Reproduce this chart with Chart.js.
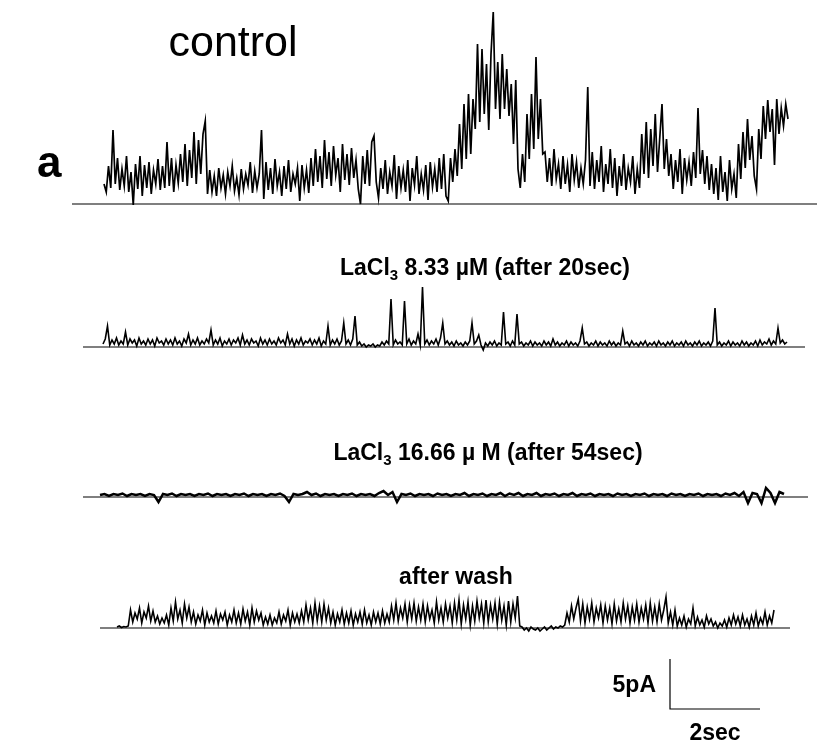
<!DOCTYPE html>
<html>
<head>
<meta charset="utf-8">
<script src="https://cdn.jsdelivr.net/npm/chart.js@4"></script>
<style>
  body { margin: 0; background: #fff; }
  canvas { display: block; }
</style>
</head>
<body>
<canvas id="chart" width="817" height="750"></canvas>
<script>
// current traces in pA above baseline
// control, 8.33 µM and wash sampled every 0.05 s, 16.66 µM every 0.1 s
const controlTrace = [
  2.0, 1.2, 3.8, 1.6, 7.4, 2.0, 4.6, 1.4, 3.5, 1.8, 4.8, 1.2, 3.2, -0.1, 4.0,
  1.5, 4.8, 0.8, 3.9, 1.6, 4.2, 1.0, 3.4, 2.0, 4.5, 1.4,
  3.8, 1.6, 6.2, 1.8, 4.6, 1.2, 3.9, 2.1, 5.0,
  2.2, 6.0, 1.8, 5.4, 2.6, 7.2, 2.0, 6.4, 3.0, 7.0, 8.3, 1.0,
  3.4, 1.2, 2.8, 0.8, 3.6, 1.6, 2.9, 1.0, 3.2, 1.8, 3.8, 1.3, 2.6, 0.9, 3.5, 1.5, 3.0, 1.9, 4.2, 1.1, 3.3, 1.6, 3.0,
  7.4,
  0.5, 4.2, 1.4, 3.6, 1.0, 4.5, 1.8, 3.2, 0.8, 3.8, 1.5, 4.4, 1.2, 3.0, 2.0, 3.6, 0.3, 3.9, 1.6, 3.4, 1.1, 4.6, 1.8,
  5.5, 2.2, 4.8, 1.6, 6.4, 2.5, 5.2, 1.8, 5.8, 2.9, 4.6, 1.2, 6.0, 2.4, 5.0, 1.9, 5.6, 2.6, 4.4, 1.5,
  0.0, 4.8, 2.0, 5.4, 1.8, 6.2, 6.8, 2.2,
  0.6, 3.6, 1.5, 4.4, 1.0, 3.2, 1.8, 4.9, 0.5, 3.8, 1.6, 3.4, 1.2, 4.4, 0.3, 3.6, 1.9, 4.8, 1.0, 3.0,
  1.4, 3.9, 0.4, 4.2, 1.7, 3.5, 1.2, 4.6, 1.5, 5.0, 0.8, 0.3,
  4.6, 2.2, 5.5, 2.8, 8.0, 3.5, 10.0, 4.5, 11.0, 5.0, 10.5,
  7.5, 16.0, 8.2, 15.5, 9.0, 14.0, 7.4, 15.0, 19.2, 9.5, 14.2,
  8.5, 15.0, 9.5, 13.5, 8.8, 12.0,
  6.0, 12.4, 3.5, 1.6, 5.0, 2.2,
  9.0, 4.5, 11.0, 5.5, 14.7, 6.5, 10.5, 5.0,
  5.2, 2.2, 4.6, 1.8, 5.5, 2.5, 4.0, 1.5, 4.8, 2.0, 3.9, 1.2, 5.0, 2.4, 4.2, 1.6, 3.6, 2.0, 4.4, 11.7, 1.8,
  5.2, 1.5, 4.4, 2.2, 5.8, 1.2, 4.0, 2.0, 5.5, 1.6, 4.6, 0.8, 3.8, 1.8, 5.0, 1.4, 3.6, 2.2, 4.8, 1.0, 3.5, 1.6,
  7.0, 3.0, 8.2, 2.6, 7.5, 3.8, 9.0, 3.2, 6.6, 10.0, 3.5, 6.5, 2.8,
  5.0, 1.5, 4.4, 2.2, 5.5, 1.0, 4.6, 2.4, 4.2, 1.8, 5.2, 2.6, 9.6, 3.0, 5.4, 2.0, 4.8, 1.4, 4.0,
  1.0, 3.6, 0.4, 4.8, 1.2, 3.2, 0.3, 4.4, 1.5, 3.0, 0.6,
  6.0, 2.5, 7.2, 3.6, 8.5, 4.4, 6.8, 2.8, 1.5, 7.5, 4.5,
  9.8, 6.5, 10.4, 7.2, 9.5, 3.9, 10.5, 7.0, 9.6, 7.8, 10.0, 8.5
];

const la833Trace = [
  0.3, 0.8, 2.1, 0.2, 0.7, 0.3, 0.9, 0.2, 0.6, 0.3, 1.5, 0.2, 0.8, 0.4, 0.7, 0.1, 0.9, 0.3, 0.6, 0.2,
  0.8, 0.3, 0.7, 0.1, 0.9, 0.4, 0.6, 0.2, 0.8, 0.3, 0.7, 0.2, 0.9, 0.3, 0.6, 0.1, 0.8, 0.4, 1.3, 0.2,
  0.7, 0.3, 0.9, 0.2, 0.6, 0.3, 0.8, 0.4, 1.7, 0.2, 0.7, 0.3, 0.9, 0.1, 0.6, 0.3, 0.8, 0.2, 0.7, 0.4,
  0.9, 0.2, 1.2, 0.3, 0.7, 0.2, 0.8, 0.4, 0.6, 0.1, 0.9, 0.3, 0.7, 0.2, 0.8, 0.3, 0.6, 0.2, 0.9, 0.4,
  0.7, 0.2, 1.3, 0.3, 0.8, 0.1, 0.7, 0.3, 0.9, 0.2, 0.6, 0.4, 0.8, 0.2, 0.7, 0.3, 0.9, 0.1, 0.6, 0.3,
  2.1, 0.2, 0.7, 0.3, 0.8, 0.2, 0.6, 2.4, 0.3, 0.7, 0.2, 0.8, 3.1, 0.2, 0.5, 0.1, 0.3, 0.0, 0.2, 0.1,
  0.3, 0.0, 0.2, 0.1, 0.5, 0.2, 0.6, 0.3, 4.8, 0.2, 0.7, 0.3, 0.5, 0.2, 4.6, 0.3, 0.8, 0.2, 0.6, 0.3,
  1.3, 0.2, 6.0, 0.3, 0.7, 0.2, 0.6, 0.3, 0.8, 0.2, 0.9, 2.4, 0.3, 0.6, 0.2, 0.5, 0.1, 0.6, 0.2, 0.4,
  0.1, 0.5, 0.2, 0.6, 2.4, 0.3, 0.6, 1.2, 0.2, -0.3, 0.4, 0.1, 0.5, 0.2, 0.6, 0.1, 0.4, 0.2, 3.5, 0.3,
  0.5, 0.1, 0.6, 0.2, 3.3, 0.3, 0.5, 0.1, 0.4, 0.2, 0.6, 0.1, 0.5, 0.2, 0.4, 0.1, 0.6, 0.2, 0.5, 0.1,
  0.8, 0.2, 0.5, 0.1, 0.4, 0.2, 0.6, 0.1, 0.5, 0.2, 0.4, 0.1, 0.6, 1.9, 0.3, 0.5, 0.1, 0.4, 0.2, 0.6,
  0.1, 0.5, 0.2, 0.4, 0.1, 0.6, 0.2, 0.5, 0.1, 0.4, 0.2, 1.6, 0.3, 0.5, 0.1, 0.6, 0.2, 0.4, 0.1, 0.5,
  0.2, 0.6, 0.1, 0.4, 0.2, 0.5, 0.1, 0.6, 0.2, 0.4, 0.1, 0.5, 0.2, 0.6, 0.1, 0.4, 0.2, 0.5, 0.1, 0.6,
  0.2, 0.4, 0.1, 0.5, 0.2, 0.6, 0.1, 0.4, 0.2, 0.5, 0.1, 0.6, 3.9, 0.2, 0.5, 0.1, 0.4, 0.2, 0.6, 0.1,
  0.5, 0.2, 0.4, 0.1, 0.6, 0.2, 0.5, 0.1, 0.4, 0.2, 0.6, 0.1, 0.7, 0.2, 0.5, 0.3, 0.8, 0.2, 0.6, 0.3,
  1.9, 0.4, 0.7, 0.3, 0.5
];

const la1666Trace = [
  0.2, 0.3, 0.1, 0.3, 0.2, 0.35, 0.1, 0.3, 0.2, 0.3,
  0.1, 0.3, 0.2, -0.5, 0.3, 0.2, 0.35, 0.1, 0.3, 0.2,
  0.3, 0.1, 0.3, 0.2, 0.35, 0.1, 0.3, 0.2, 0.3, 0.1,
  0.3, 0.2, 0.35, 0.1, 0.3, 0.2, 0.3, 0.1, 0.3, 0.2,
  0.35, 0.1, -0.5, 0.3, 0.2, 0.3, 0.5, 0.2, 0.35, 0.1,
  0.3, 0.2, 0.3, 0.1, 0.3, 0.2, 0.35, 0.1, 0.3, 0.2,
  0.3, 0.1, 0.4, 0.6, 0.2, 0.5, -0.5, 0.3, 0.2, 0.35,
  0.1, 0.3, 0.2, 0.3, 0.1, 0.35, 0.2, 0.3, 0.1, 0.3,
  0.2, 0.4, 0.1, 0.3, 0.2, 0.35, 0.1, 0.3, 0.2, 0.4,
  0.1, 0.35, 0.2, 0.4, 0.1, 0.3, 0.2, 0.4, 0.1, 0.3,
  0.2, 0.35, 0.1, 0.3, 0.2, 0.4, 0.1, 0.3, 0.2, 0.35,
  0.1, 0.3, 0.2, 0.3, 0.1, 0.35, 0.2, 0.3, 0.1, 0.3,
  0.2, 0.35, 0.1, 0.3, 0.2, 0.3, 0.1, 0.35, 0.2, 0.3,
  0.1, 0.3, 0.2, 0.35, 0.1, 0.3, 0.2, 0.3, 0.1, 0.35,
  0.2, 0.4, 0.1, 0.5, -0.6, 0.4, 0.3, -0.6, 0.9, 0.4,
  -0.6, 0.5, 0.3
];

const washTrace = [
  0.1, 0.2, 0.05, 0.15, 0.1, 0.2,
  1.8, 0.6, 1.5, 0.9, 2.0, 0.5, 1.6, 1.0, 2.2, 0.7, 1.7, 0.6,
  1.2, 0.4, 1.0, 0.5, 1.3, 0.3,
  2.0, 0.7, 2.6, 0.9, 1.8, 0.5, 2.4, 1.0, 2.1, 0.6,
  1.6, 0.4, 1.3, 0.7, 1.8, 0.3, 1.5, 0.6, 1.2, 0.5, 1.7, 0.4, 1.4, 0.8, 1.6, 0.3, 1.3, 0.6, 1.8, 0.5, 1.5,
  0.4, 1.9, 0.7, 1.6, 0.3, 2.0, 0.6, 1.7, 0.8, 1.5,
  0.3, 1.1, 0.4, 1.3, 0.3, 1.0,
  0.5, 1.6, 0.4, 1.3, 0.7, 1.8, 0.3, 1.5, 0.6, 1.4, 0.5, 1.7,
  0.6, 2.3, 0.8, 2.0, 0.5, 2.5, 0.7, 2.2, 0.6, 2.4, 0.8, 2.0,
  0.5, 1.6, 0.3, 1.4, 0.6, 1.8, 0.4, 1.5, 0.5, 1.7, 0.3, 1.4, 0.6, 1.6, 0.4, 1.8, 0.5, 1.3, 0.3, 1.6,
  0.6, 1.5, 0.4, 1.7, 0.5, 1.4, 0.6,
  2.2, 0.8, 2.5, 0.7, 2.0, 1.0, 2.4, 0.6, 2.3, 0.9, 2.5, 0.7, 2.1, 0.8, 2.4,
  0.6, 2.2, 0.9, 1.8, 0.5, 2.6, 0.8, 2.0, 0.6, 2.4, 1.0, 2.2,
  0.5, 2.5, 0.8, 2.8, 0.4, 2.3, 0.9, 2.6, 0.3, 2.2, 0.7, 2.7, 1.0, 2.4, 0.5, 2.8, 0.6, 2.3, 0.9, 2.5,
  0.4, 2.6, 0.8, 2.2, 0.3, 2.7, 0.6, 2.4, 1.0, 3.2, 0.2,
  0.1, -0.2, 0.0, -0.3, 0.1, -0.1, -0.2, 0.0, -0.3, -0.1, 0.1, -0.2, 0.0, 0.2, -0.1, 0.1, 0.0, 0.2, 0.1, 0.3,
  1.5, 0.6, 2.2, 0.9, 2.0, 2.9, 0.7, 2.4, 0.5, 2.1, 0.9, 2.5, 0.6, 2.0, 1.0, 2.3, 0.5, 2.2, 0.8, 2.0,
  0.4, 2.4, 0.7, 1.9, 0.6, 2.5, 0.9, 2.2, 0.5, 2.1, 0.8, 2.4, 0.6, 2.0, 0.9, 2.3, 0.5, 2.5, 0.7, 2.1,
  0.6, 2.4, 0.8, 1.8, 3.1, 0.5, 1.6, 0.3,
  1.8, 0.2, 1.0, 0.3, 1.2, 0.1, 0.9, 0.4, 2.0, 0.2, 1.1, 0.3, 0.8, 0.1, 1.2, 0.4, 0.9, 0.2, 0.6, 0.0,
  0.5, 0.2, 0.8, 0.1, 1.0, 0.3, 1.3, 0.4, 1.1, 0.2, 1.3, 0.3, 0.9, 0.1, 1.2, 0.3, 1.5, 0.2, 1.0, 0.4,
  1.6, 0.3, 1.2, 0.5, 1.8
];

const traceLabels = ["control", " 8.33 µM (after 20sec)", " 16.66 µ M (after 54sec)", "after wash"];

// layout: 45 px per second, 10 px per pA
const pxPerSec = 45, pxPerPA = 10;
const W = 817, H = 750;

// where each trace sits: start time (s), sample step (s), baseline level (pA), baseline line from/to (s)
const rows = [
  { data: controlTrace, t0: 104 / 45, dt: 0.05, base: 54.6, from: 72 / 45, to: 817 / 45, lw: 1.7 },
  { data: la833Trace,   t0: 103 / 45, dt: 0.05, base: 40.3, from: 83 / 45, to: 805 / 45, lw: 1.6 },
  { data: la1666Trace,  t0: 100 / 45, dt: 0.1,  base: 25.3, from: 83 / 45, to: 808 / 45, lw: 2.5 },
  { data: washTrace,    t0: 117 / 45, dt: 0.05, base: 12.2, from: 100 / 45, to: 790 / 45, lw: 1.6 }
];

const scaleBar = { pA: 5, sec: 2, t: 670 / 45, y: 4.1 };

const datasets = [];
rows.forEach(r => {
  datasets.push({
    data: [{ x: r.from, y: r.base }, { x: r.to, y: r.base }],
    borderColor: "#000", borderWidth: 1.2
  });
  datasets.push({
    data: r.data.map((v, i) => ({ x: r.t0 + i * r.dt, y: r.base + v })),
    borderColor: "#000", borderWidth: r.lw
  });
});
datasets.push({
  data: [
    { x: scaleBar.t, y: scaleBar.y + scaleBar.pA },
    { x: scaleBar.t, y: scaleBar.y },
    { x: scaleBar.t + scaleBar.sec, y: scaleBar.y }
  ],
  borderColor: "#000", borderWidth: 1.2
});

function drawLaCl(ctx, rest, cx, y) {
  const big = "bold 23px 'Liberation Sans', Arial, sans-serif";
  const small = "bold 15px 'Liberation Sans', Arial, sans-serif";
  ctx.font = big;
  const w1 = ctx.measureText("LaCl").width;
  const w3 = ctx.measureText(rest).width;
  ctx.font = small;
  const w2 = ctx.measureText("3").width;
  let x = cx - (w1 + w2 + w3) / 2;
  ctx.textAlign = "left";
  ctx.font = big;
  ctx.fillText("LaCl", x, y);
  x += w1;
  ctx.font = small;
  ctx.fillText("3", x, y + 5);
  x += w2;
  ctx.font = big;
  ctx.fillText(rest, x, y);
}

const labelsPlugin = {
  id: "labels",
  afterDraw(chart) {
    const ctx = chart.ctx;
    ctx.save();
    ctx.fillStyle = "#000";
    ctx.textBaseline = "alphabetic";

    ctx.font = "43px 'Liberation Sans', Arial, sans-serif";
    ctx.textAlign = "center";
    ctx.fillText(traceLabels[0], 233, 56);

    ctx.font = "bold 44px 'Liberation Sans', Arial, sans-serif";
    ctx.textAlign = "left";
    ctx.fillText("a", 37, 177);

    drawLaCl(ctx, traceLabels[1], 485, 275);
    drawLaCl(ctx, traceLabels[2], 488, 460);

    ctx.font = "bold 23px 'Liberation Sans', Arial, sans-serif";
    ctx.textAlign = "center";
    ctx.fillText(traceLabels[3], 456, 584);

    ctx.textAlign = "right";
    ctx.fillText("5pA", 656, 692);
    ctx.textAlign = "center";
    ctx.fillText("2sec", 715, 740);
    ctx.restore();
  }
};

new Chart(document.getElementById("chart"), {
  type: "line",
  data: { datasets },
  options: {
    responsive: false,
    devicePixelRatio: 1,
    animation: false,
    layout: { padding: 0 },
    elements: { point: { radius: 0 }, line: { tension: 0 } },
    datasets: { line: { clip: false } },
    plugins: { legend: { display: false }, tooltip: { enabled: false } },
    scales: {
      x: { type: "linear", display: false, min: 0, max: W / pxPerSec },
      y: { type: "linear", display: false, min: 0, max: H / pxPerPA }
    }
  },
  plugins: [labelsPlugin]
});
</script>
</body>
</html>
